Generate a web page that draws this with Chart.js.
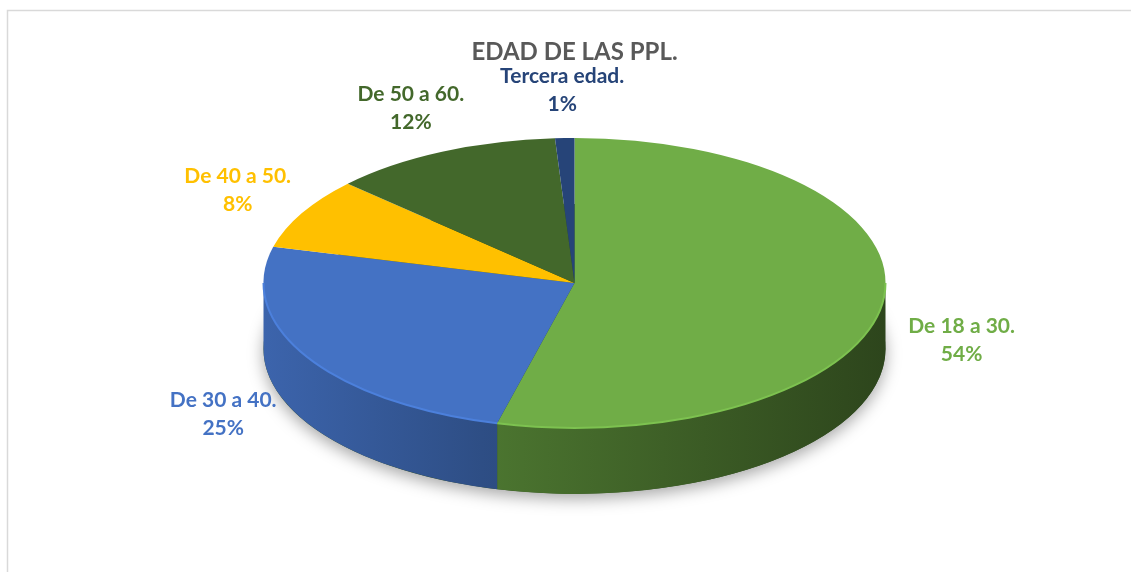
<!DOCTYPE html>
<html>
<head>
<meta charset="utf-8">
<script src="https://cdn.jsdelivr.net/npm/chart.js@4.4.0/dist/chart.umd.min.js"></script>
<style>
  body { margin: 0; background: #fff; }
  #wrap { width: 1131px; height: 572px; }
</style>
</head>
<body>
<div id="wrap"><canvas id="pieChart" width="1131" height="572"></canvas></div>
<script>
// Age groups of the PPL (percentages)
const GROUPS = ['De 18 a 30.', 'De 30 a 40.', 'De 40 a 50.', 'De 50 a 60.', 'Tercera edad.'];
const SHARES = [54, 25, 8, 12, 1];
const COLORS = ['#70AD47', '#4472C4', '#FFC000', '#43682B', '#264478'];

// look of the tilted pie
const RX = 311, RY = 145, DEPTH = 66, LINE = 28;

function shade(hex, f) {
    const n = parseInt(hex.slice(1), 16);
    const c = v => Math.min(255, Math.round(v * f));
    return `rgb(${c((n >> 16) & 255)},${c((n >> 8) & 255)},${c(n & 255)})`;
}

const frame = {
    id: 'frame',
    beforeDraw(chart) {
        const ctx = chart.ctx;
        ctx.save();
        ctx.fillStyle = '#fff';
        ctx.fillRect(0, 0, chart.width, chart.height);
        ctx.strokeStyle = '#d9d9d9';
        ctx.lineWidth = 1.5;
        ctx.beginPath();
        ctx.moveTo(7.5, chart.height);
        ctx.lineTo(7.5, 10.5);
        ctx.lineTo(chart.width, 10.5);
        ctx.stroke();
        ctx.restore();
    }
};

const pie3d = {
    id: 'pie3d',
    beforeDatasetsDraw(chart) {
        const ctx = chart.ctx;
        const arcs = chart.getDatasetMeta(0).data;
        const { x, y, outerRadius } = arcs[0];

        // soft shadow on the floor
        ctx.save();
        ctx.shadowColor = 'rgba(0,0,0,0.35)';
        ctx.shadowBlur = 16;
        ctx.shadowOffsetY = 5;
        ctx.fillStyle = '#2f4d20';
        ctx.beginPath();
        ctx.ellipse(x, y + DEPTH, RX, RY, 0, 0, Math.PI * 2);
        ctx.fill();
        ctx.restore();

        // side walls, only the front half shows
        arcs.forEach((arc, i) => {
            const s = Math.max(arc.startAngle, 0), e = Math.min(arc.endAngle, Math.PI);
            if (s >= e) return;
            const grad = ctx.createLinearGradient(x - RX, 0, x + RX, 0);
            grad.addColorStop(0, shade(COLORS[i], 0.88));
            grad.addColorStop(0.35, shade(COLORS[i], 0.68));
            grad.addColorStop(1, shade(COLORS[i], 0.4));
            ctx.beginPath();
            ctx.ellipse(x, y, RX, RY, 0, s, e);
            ctx.ellipse(x, y + DEPTH, RX, RY, 0, e, s, true);
            ctx.closePath();
            ctx.fillStyle = grad;
            ctx.fill();
        });

        // top face: squash the library's circle into the ellipse
        ctx.save();
        ctx.translate(x, y);
        ctx.scale(RX / outerRadius, RY / outerRadius);
        ctx.translate(-x, -y);
    },
    afterDatasetsDraw(chart) {
        const ctx = chart.ctx;
        ctx.restore();
        const arcs = chart.getDatasetMeta(0).data;
        const { x, y } = arcs[0];

        // light rim on the front edge
        arcs.forEach((arc, i) => {
            const s = Math.max(arc.startAngle, 0), e = Math.min(arc.endAngle, Math.PI);
            if (s >= e) return;
            ctx.beginPath();
            ctx.ellipse(x, y, RX, RY, 0, s, e);
            ctx.strokeStyle = shade(COLORS[i], 1.12);
            ctx.lineWidth = 2;
            ctx.stroke();
        });

        // outside-end labels
        const total = SHARES.reduce((a, b) => a + b, 0);
        ctx.save();
        ctx.font = 'bold 21px Lato';
        ctx.textAlign = 'center';
        ctx.textBaseline = 'middle';
        arcs.forEach((arc, i) => {
            const mid = (arc.startAngle + arc.endAngle) / 2;
            const c = Math.cos(mid), s = Math.sin(mid);
            const pct = Math.round(SHARES[i] / total * 100) + '%';
            const w = Math.max(ctx.measureText(GROUPS[i]).width, ctx.measureText(pct).width);
            const near = 1 + 0.15 * Math.max(s, 0);
            const lx = x + (RX * near + 20) * c + c * w / 2;
            const ly = y + (RY + 20) * s + s * LINE + (s > 0 ? DEPTH / 2 : 0);
            ctx.fillStyle = COLORS[i];
            ctx.fillText(GROUPS[i], lx, ly - LINE / 2);
            ctx.fillText(pct, lx, ly + LINE / 2);
        });
        ctx.restore();
    }
};

const pie = document.getElementById('pieChart');

const pieChart = new Chart(pie, {
    type: 'pie',
    data: {
        labels: GROUPS,
        datasets: [{
            data: SHARES,
            backgroundColor: COLORS,
            borderWidth: 0,
            clip: false
        }]
    },
    options: {
        responsive: false,
        devicePixelRatio: 1,
        animation: false,
        layout: {
            padding: { left: 18, right: 0, top: 10, bottom: 93 }
        },
        plugins: {
            legend: { display: false },
            tooltip: { enabled: false },
            title: {
                display: true,
                text: 'EDAD DE LAS PPL.',
                color: '#595959',
                font: { family: 'Lato', size: 24, weight: 'bold' },
                padding: { top: 28, bottom: 20 }
            }
        }
    },
    plugins: [frame, pie3d]
});
</script>
</body>
</html>
